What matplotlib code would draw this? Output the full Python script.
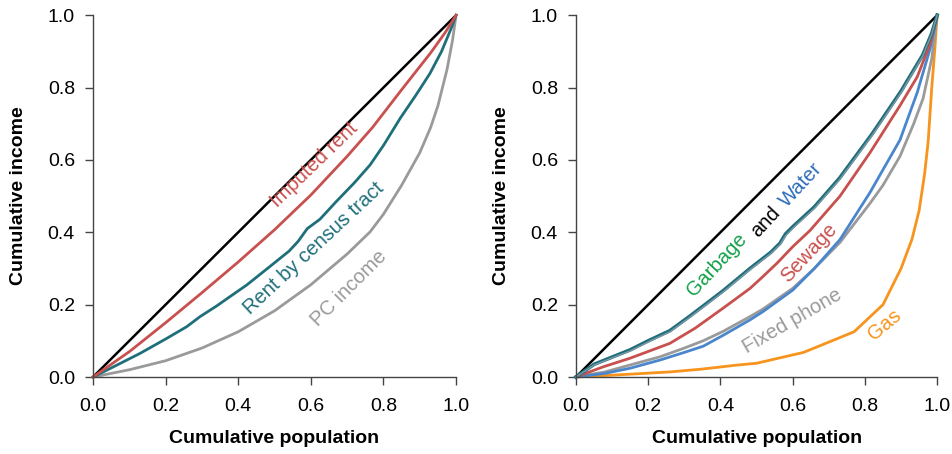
import numpy as np
import matplotlib.pyplot as plt

# Left panel: Lorenz curves
rent_x = [0, 0.1, 0.2, 0.3, 0.4, 0.5, 0.6, 0.7, 0.77, 0.85, 0.93, 0.97, 1.0]
rent_y = [0, 0.07, 0.15, 0.233, 0.318, 0.407, 0.503, 0.61, 0.69, 0.794, 0.896, 0.952, 1.0]

tract_x = [0, 0.06, 0.129, 0.2, 0.258, 0.295, 0.34, 0.377, 0.423, 0.488, 0.54, 0.565,
           0.59, 0.625, 0.671, 0.72, 0.763, 0.8, 0.846, 0.89, 0.928, 0.96, 0.985, 1.0]
tract_y = [0, 0.03, 0.065, 0.105, 0.139, 0.167, 0.196, 0.222, 0.254, 0.306, 0.348, 0.375,
           0.41, 0.436, 0.486, 0.537, 0.586, 0.64, 0.715, 0.78, 0.839, 0.9, 0.96, 1.0]

pc_x = [0, 0.1, 0.2, 0.3, 0.4, 0.5, 0.6, 0.7, 0.763, 0.8, 0.85, 0.9, 0.93, 0.95, 0.975, 0.99, 1.0]
pc_y = [0, 0.02, 0.045, 0.08, 0.125, 0.183, 0.255, 0.34, 0.401, 0.45, 0.53, 0.62, 0.69, 0.75, 0.85, 0.93, 1.0]

# Right panel: utilities
garb_x = [0, 0.05, 0.1, 0.15, 0.2, 0.26, 0.315, 0.407, 0.482, 0.54, 0.565, 0.58, 0.6,
          0.66, 0.73, 0.82, 0.9, 0.96, 0.985, 1.0]
garb_y = [0, 0.035, 0.055, 0.075, 0.1, 0.128, 0.168, 0.238, 0.3, 0.345, 0.37, 0.395, 0.415,
          0.47, 0.55, 0.672, 0.79, 0.89, 0.95, 1.0]
water_y = [0, 0.033, 0.053, 0.072, 0.097, 0.125, 0.165, 0.235, 0.297, 0.342, 0.366, 0.39, 0.411,
           0.466, 0.546, 0.668, 0.786, 0.887, 0.948, 1.0]

sew_x = [0, 0.075, 0.15, 0.26, 0.33, 0.407, 0.482, 0.518, 0.557, 0.6, 0.648, 0.731, 0.814,
         0.897, 0.945, 0.98, 1.0]
sew_y = [0, 0.028, 0.052, 0.093, 0.135, 0.19, 0.245, 0.278, 0.315, 0.36, 0.405, 0.5, 0.62,
         0.75, 0.83, 0.92, 1.0]

elec_x = [0, 0.08, 0.149, 0.233, 0.3, 0.352, 0.407, 0.482, 0.518, 0.6, 0.66, 0.731, 0.814,
          0.897, 0.945, 0.98, 1.0]
elec_y = [0, 0.01, 0.024, 0.047, 0.068, 0.085, 0.115, 0.158, 0.181, 0.24, 0.3, 0.38, 0.51,
          0.655, 0.787, 0.906, 1.0]

phone_x = [0, 0.08, 0.149, 0.233, 0.3, 0.352, 0.407, 0.482, 0.518, 0.6, 0.66, 0.731, 0.814,
           0.85, 0.897, 0.935, 0.961, 0.985, 1.0]
phone_y = [0, 0.014, 0.033, 0.056, 0.08, 0.1, 0.126, 0.167, 0.188, 0.245, 0.3, 0.372, 0.48,
           0.53, 0.61, 0.7, 0.77, 0.88, 1.0]

gas_x = [0, 0.1, 0.26, 0.35, 0.446, 0.5, 0.63, 0.77, 0.85, 0.9, 0.93, 0.95, 0.965, 0.975,
         0.985, 0.993, 1.0]
gas_y = [0, 0.005, 0.014, 0.022, 0.033, 0.038, 0.068, 0.125, 0.2, 0.3, 0.38, 0.46, 0.56, 0.65,
         0.8, 0.9, 1.0]

ticks = [0.0, 0.2, 0.4, 0.6, 0.8, 1.0]

red = "#c8504e"
teal = "#1f6f7b"
gray = "#9a9a9a"
green = "#14a04a"
blue = "#2f6db8"
lblue = "#4a86cc"
orange = "#f7941d"

plt.rcParams['font.family'] = ['Liberation Sans', 'DejaVu Sans']

fig = plt.figure(figsize=(9.53, 4.54), dpi=100)
ax1 = fig.add_axes([0.0976, 0.1696, 0.381, 0.797])
ax2 = fig.add_axes([0.6044, 0.1696, 0.379, 0.797])

for ax in (ax1, ax2):
    ax.plot([0, 1], [0, 1], color="black", lw=1.8, solid_capstyle="round")
    ax.set_xlim(0, 1)
    ax.set_ylim(0, 1)
    ax.set_xticks(ticks)
    ax.set_yticks(ticks)
    ax.set_xticklabels([f"{t:.1f}" for t in ticks])
    ax.set_yticklabels([f"{t:.1f}" for t in ticks])
    for s in ("top", "right"):
        ax.spines[s].set_visible(False)
    for s in ("left", "bottom"):
        ax.spines[s].set_color("#444444")
        ax.spines[s].set_linewidth(1.0)
    ax.tick_params(direction="out", length=6, width=1.0, color="#444444",
                   labelsize=14, pad=7)
    ax.tick_params(axis="x", pad=9)
    ax.set_xlabel("Cumulative population", fontsize=14, fontweight="bold", labelpad=11)
    ax.set_ylabel("Cumulative income", fontsize=14, fontweight="bold", labelpad=15)

# left
ax1.plot(pc_x, pc_y, color=gray, lw=2, clip_on=False)
ax1.plot(tract_x, tract_y, color=teal, lw=2, clip_on=False)
ax1.plot(rent_x, rent_y, color=red, lw=2, clip_on=False)
ax1.text(0.608, 0.585, "Imputed rent", color=red, fontsize=14.5, rotation=44,
         ha="center", va="center")
ax1.text(0.607, 0.355, "Rent by census tract", color=teal, fontsize=14.5, rotation=43,
         ha="center", va="center")
ax1.text(0.705, 0.245, "PC income", color=gray, fontsize=14.5, rotation=45,
         ha="center", va="center")

# right
ax2.plot(gas_x, gas_y, color=orange, lw=2, clip_on=False)
ax2.plot(phone_x, phone_y, color=gray, lw=2, clip_on=False)
ax2.plot(elec_x, elec_y, color=lblue, lw=2, clip_on=False)
ax2.plot(sew_x, sew_y, color=red, lw=2, clip_on=False)
ax2.plot(garb_x, garb_y, color=teal, lw=2.6, clip_on=False)
ax2.plot(garb_x, water_y, color="#7f98a6", lw=1.0, clip_on=False)

ax2.text(0.39, 0.31, "Garbage", color=green, fontsize=14.5, rotation=47,
         ha="center", va="center")
ax2.text(0.524, 0.428, "and", color="black", fontsize=14.5, rotation=47,
         ha="center", va="center")
ax2.text(0.624, 0.53, "Water", color=blue, fontsize=14.5, rotation=47,
         ha="center", va="center")
ax2.text(0.646, 0.342, "Sewage", color=red, fontsize=14.5, rotation=47,
         ha="center", va="center")
ax2.text(0.598, 0.155, "Fixed phone", color=gray, fontsize=14.5, rotation=30,
         ha="center", va="center")
ax2.text(0.855, 0.144, "Gas", color=orange, fontsize=14.5, rotation=40,
         ha="center", va="center")

fig.savefig("out.png", dpi=100)
